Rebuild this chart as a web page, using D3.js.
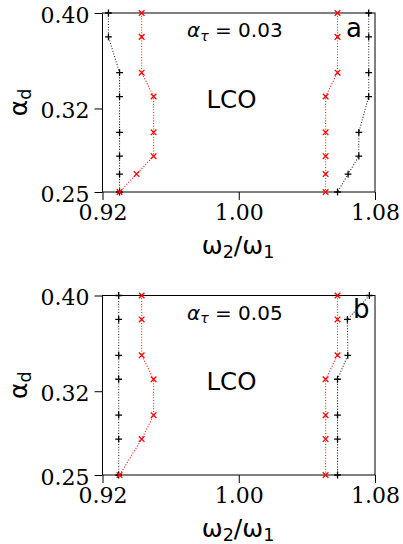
<!DOCTYPE html>
<html>
<head>
<meta charset="UTF-8"/>
<script src="https://d3js.org/d3.v7.min.js"></script>
<style>
  body { margin: 0; background: #fff; }
  .lbl { font-family: "DejaVu Sans", sans-serif; fill: #000; }
  svg .tk { font-family: "DejaVu Serif", "Liberation Serif", serif !important; font-size: 22px; fill: #000; }
</style>
</head>
<body>
<script>
  // values
  var xTicks = [0.92, 1.00, 1.08];
  var yTicks = [0.25, 0.32, 0.40];

  var alphaA = [0.40, 0.38, 0.35, 0.33, 0.30, 0.28, 0.265, 0.25];
  var blackLeftA  = [0.9235, 0.9235, 0.930, 0.930, 0.930, 0.930, 0.930, 0.930];
  var redLeftA    = [0.943, 0.943, 0.943, 0.950, 0.950, 0.950, 0.940, 0.930];
  var redRightA   = [1.058, 1.058, 1.058, 1.051, 1.051, 1.051, 1.051, 1.051];
  var blackRightA = [1.0763, 1.0763, 1.0763, 1.0763, 1.0705, 1.0705, 1.0642, 1.058];

  var alphaB = [0.40, 0.38, 0.35, 0.33, 0.30, 0.28, 0.25];
  var blackLeftB  = [0.9295, 0.9295, 0.9295, 0.9295, 0.9295, 0.9295, 0.9295];
  var redLeftB    = [0.943, 0.943, 0.943, 0.950, 0.950, 0.943, 0.930];
  var redRightB   = [1.058, 1.058, 1.058, 1.051, 1.051, 1.051, 1.051];
  var blackRightB = [1.0767, 1.0638, 1.064, 1.058, 1.058, 1.058, 1.058];

  var panelTags = ["a", "b"];
  var tauValues = ["0.03", "0.05"];

  var W = 403, H = 544;
  var left = 102.5, right = 375;

  var svg = d3.select("body").append("svg")
    .attr("width", W).attr("height", H);

  var x = d3.scaleLinear().domain([0.92, 1.08]).range([left, right]);

  var panels = [
    { top: 13, bottom: 192, alpha: alphaA,
      series: [[blackLeftA, "black"], [blackRightA, "black"], [redLeftA, "red"], [redRightA, "red"]] },
    { top: 295.5, bottom: 475, alpha: alphaB,
      series: [[blackLeftB, "black"], [blackRightB, "black"], [redLeftB, "red"], [redRightB, "red"]] }
  ];

  var plusPath = "M-3.4,0H3.4M0,-3.4V3.4";
  var crossPath = "M-2.8,-2.8L2.8,2.8M-2.8,2.8L2.8,-2.8";

  panels.forEach(function(p, pi) {
    var y = d3.scaleLinear().domain([0.25, 0.40]).range([p.bottom, p.top]);
    var g = svg.append("g");

    // axes
    var ya = g.append("g")
      .attr("transform", "translate(" + left + ",0)")
      .call(d3.axisLeft(y).tickValues(yTicks).tickFormat(d3.format(".2f")).tickSize(8).tickPadding(5));
    ya.select(".domain").remove();
    ya.selectAll(".tick line").attr("stroke", "#000");
    ya.selectAll(".tick text").attr("class", "tk").attr("dy", "0.42em");

    var xa = g.append("g")
      .attr("transform", "translate(0," + p.bottom + ")")
      .call(d3.axisBottom(x).tickValues(xTicks).tickFormat(d3.format(".2f")).tickSize(8).tickPadding(4));
    xa.select(".domain").remove();
    xa.selectAll(".tick line").attr("stroke", "#000");
    xa.selectAll(".tick text").attr("class", "tk").attr("dy", "0.72em");

    g.append("rect")
      .attr("x", left).attr("y", p.top)
      .attr("width", right - left).attr("height", p.bottom - p.top)
      .attr("fill", "none").attr("stroke", "#000").attr("stroke-width", 1);

    // series
    var line = d3.line().x(function(d) { return x(d[0]); }).y(function(d) { return y(d[1]); });
    p.series.forEach(function(s) {
      var pts = s[0].map(function(v, i) { return [v, p.alpha[i]]; });
      var col = s[1] == "red" ? "#ff0000" : "#000";
      g.append("path")
        .attr("d", line(pts))
        .attr("fill", "none")
        .attr("stroke", col)
        .attr("stroke-opacity", s[1] == "red" ? 0.9 : 0.8)
        .attr("stroke-width", 1.1)
        .attr("stroke-dasharray", "1.1,1.65");
      g.selectAll(null).data(pts).enter().append("path")
        .attr("transform", function(d) { return "translate(" + x(d[0]) + "," + y(d[1]) + ")"; })
        .attr("d", s[1] == "red" ? crossPath : plusPath)
        .attr("fill", "none")
        .attr("stroke", col)
        .attr("stroke-width", 1.3);
    });

    var off = p.top - 13;

    // alpha_tau annotation
    var t = g.append("text").attr("class", "lbl")
      .attr("x", 187).attr("y", 37 + off).style("font-size", "20px");
    t.append("tspan").attr("font-style", "italic").text("α");
    t.append("tspan").attr("font-style", "italic").attr("dy", 3.5).style("font-size", "14px").text("τ");
    t.append("tspan").attr("dy", -3.5).text(" = " + tauValues[pi]);

    g.append("text").attr("class", "lbl")
      .attr("x", pi == 0 ? 346 : 353).attr("y", pi == 0 ? 36.5 + off : 35 + off)
      .style("font-size", "26px").text(panelTags[pi]);

    g.append("text").attr("class", "lbl")
      .attr("x", 231.5).attr("y", 107.5 + off)
      .attr("text-anchor", "middle")
      .style("font-size", "24.5px").text("LCO");

    // axis labels
    var xl = g.append("text").attr("class", "lbl")
      .attr("x", 238).attr("y", p.bottom + 62)
      .attr("text-anchor", "middle").style("font-size", "25px");
    xl.append("tspan").text("ω");
    xl.append("tspan").attr("dy", 4).style("font-size", "17.5px").text("2");
    xl.append("tspan").attr("dy", -4).text("/ω");
    xl.append("tspan").attr("dy", 4).style("font-size", "17.5px").text("1");

    var yl = g.append("text").attr("class", "lbl")
      .attr("transform", "translate(27," + ((p.top + p.bottom) / 2) + ") rotate(-90)")
      .attr("text-anchor", "middle").style("font-size", "25px");
    yl.append("tspan").text("α");
    yl.append("tspan").attr("dy", 4).style("font-size", "17.5px").text("d");
  });
</script>
</body>
</html>
